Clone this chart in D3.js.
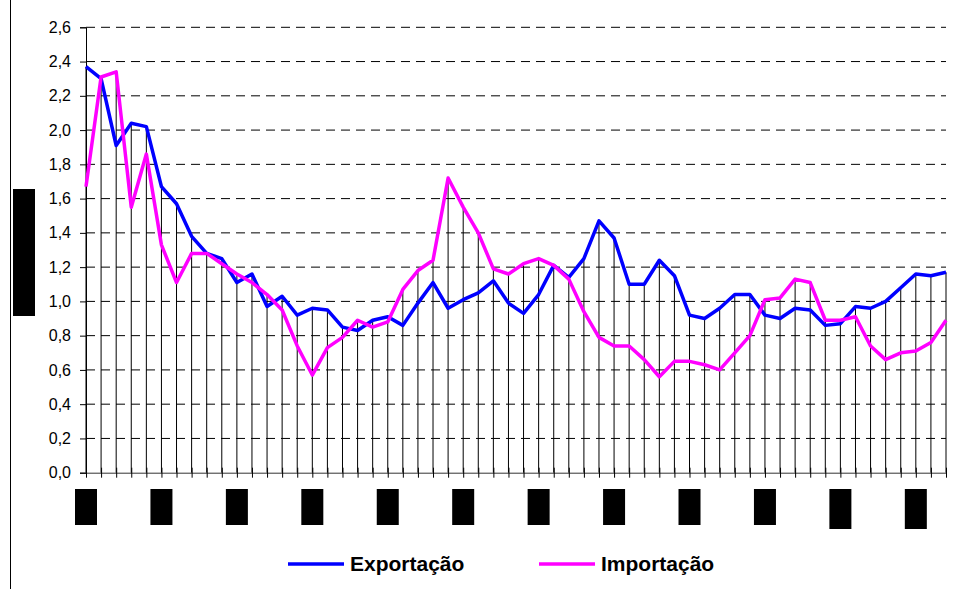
<!DOCTYPE html>
<html>
<head>
<meta charset="utf-8">
<script src="https://cdn.jsdelivr.net/npm/d3@7"></script>
<style>
  body { margin: 0; background: #fff; }
  svg { display: block; font-family: "Liberation Sans", Arial, sans-serif; }
</style>
</head>
<body>
<svg id="vis" width="967" height="589"></svg>
<script>
// values (58 periods)
var exportacao = [2.37, 2.30, 1.91, 2.04, 2.02, 1.67, 1.57, 1.38, 1.28, 1.25,
  1.11, 1.16, 0.97, 1.03, 0.92, 0.96, 0.95, 0.85, 0.83, 0.89,
  0.91, 0.86, 0.99, 1.11, 0.96, 1.01, 1.05, 1.12, 0.99, 0.93,
  1.04, 1.21, 1.14, 1.25, 1.47, 1.37, 1.10, 1.10, 1.24, 1.15,
  0.92, 0.90, 0.96, 1.04, 1.04, 0.92, 0.90, 0.96, 0.95, 0.86,
  0.87, 0.97, 0.96, 1.00, 1.08, 1.16, 1.15, 1.17];

var importacao = [1.67, 2.31, 2.34, 1.55, 1.86, 1.33, 1.11, 1.28, 1.28, 1.22,
  1.16, 1.11, 1.04, 0.95, 0.74, 0.57, 0.73, 0.79, 0.89, 0.85,
  0.88, 1.07, 1.18, 1.24, 1.72, 1.55, 1.40, 1.19, 1.16, 1.22,
  1.25, 1.21, 1.13, 0.94, 0.79, 0.74, 0.74, 0.66, 0.56, 0.65,
  0.65, 0.63, 0.60, 0.70, 0.80, 1.01, 1.02, 1.13, 1.11, 0.89,
  0.89, 0.91, 0.74, 0.66, 0.70, 0.71, 0.76, 0.89];

// periods carrying a (hidden) category label
var labelTicks = [0, 5, 10, 15, 20, 25, 30, 35, 40, 45, 50, 55];

var yTicks = [0, 0.2, 0.4, 0.6, 0.8, 1.0, 1.2, 1.4, 1.6, 1.8, 2.0, 2.2, 2.4, 2.6];

var seriesNames = ["Exportação", "Importação"];
var colors = { "Exportação": "#0000ff", "Importação": "#ff00ff" };

var svg = d3.select("svg#vis");

var plot = { left: 86, right: 946, top: 27.3, bottom: 472.7 };

var x = d3.scalePoint()
  .domain(d3.range(exportacao.length))
  .range([plot.left, plot.right]);

var y = d3.scaleLinear()
  .domain([0, 2.6])
  .range([plot.bottom, plot.top]);

// chart frame (left edge visible)
svg.append("line")
  .attr("x1", 10.5).attr("x2", 10.5)
  .attr("y1", 0).attr("y2", 589)
  .attr("stroke", "#000").attr("stroke-width", 1);

// dashed horizontal gridlines
svg.append("g").selectAll("line")
  .data(yTicks.filter(d => d > 0))
  .enter().append("line")
  .attr("x1", plot.left)
  .attr("x2", plot.right)
  .attr("y1", d => y(d))
  .attr("y2", d => y(d))
  .attr("stroke", "#000")
  .attr("stroke-width", 1)
  .attr("stroke-dasharray", "9,6");

// drop lines from the highest point down to the axis
svg.append("g").selectAll("line")
  .data(d3.range(exportacao.length))
  .enter().append("line")
  .attr("x1", i => x(i))
  .attr("x2", i => x(i))
  .attr("y1", i => y(Math.max(exportacao[i], importacao[i])))
  .attr("y2", y(0))
  .attr("stroke", "#000")
  .attr("stroke-width", 1);

// y axis
var yAxis = d3.axisLeft(y)
  .tickValues(yTicks)
  .tickSize(6)
  .tickFormat(d => d3.format(".1f")(d).replace(".", ","));

var gy = svg.append("g")
  .attr("transform", "translate(" + plot.left + ",0)")
  .call(yAxis);
gy.select(".domain").attr("stroke", "#000");
gy.selectAll(".tick line").attr("stroke", "#000");
gy.selectAll("text")
  .attr("x", -15)
  .attr("font-size", "16px")
  .attr("font-family", "Liberation Sans, Arial, sans-serif")
  .attr("fill", "#000");

// x axis with crossing ticks at every period
var xAxis = d3.axisBottom(x)
  .tickSizeInner(5)
  .tickSizeOuter(0)
  .tickFormat("");
var gx = svg.append("g")
  .attr("transform", "translate(0," + y(0) + ")")
  .call(xAxis);
gx.select(".domain").attr("stroke", "#333");
gx.selectAll(".tick line").attr("y1", -5).attr("stroke", "#000");

// redacted category labels (shown as black blocks)
svg.append("g").selectAll("rect")
  .data(labelTicks)
  .enter().append("rect")
  .attr("x", d => x(d) - 11)
  .attr("y", 489)
  .attr("width", 22)
  .attr("height", (d, i) => i >= 10 ? 40 : 36)
  .attr("fill", "#000");

// redacted y axis title
svg.append("rect")
  .attr("x", 13).attr("y", 189)
  .attr("width", 22).attr("height", 127)
  .attr("fill", "#000");

// series lines
var line = d3.line()
  .x((d, i) => x(i))
  .y(d => y(d));

[exportacao, importacao].forEach(function(values, k) {
  svg.append("path")
    .datum(values)
    .attr("d", line)
    .attr("fill", "none")
    .attr("stroke", colors[seriesNames[k]])
    .attr("stroke-width", 3.5)
    .attr("stroke-linejoin", "round");
});

// legend
var legendPos = [{ x: 288, label: seriesNames[0] }, { x: 539, label: seriesNames[1] }];
var legend = svg.append("g").selectAll("g")
  .data(legendPos)
  .enter().append("g")
  .attr("transform", d => "translate(" + d.x + ",564)");

legend.append("line")
  .attr("x1", 0).attr("x2", 56)
  .attr("y1", 0).attr("y2", 0)
  .attr("stroke", d => colors[d.label])
  .attr("stroke-width", 3.5);

legend.append("text")
  .attr("x", 62)
  .attr("y", 7)
  .attr("font-size", "21px")
  .attr("font-weight", "bold")
  .attr("fill", "#000")
  .text(d => d.label);
</script>
</body>
</html>
